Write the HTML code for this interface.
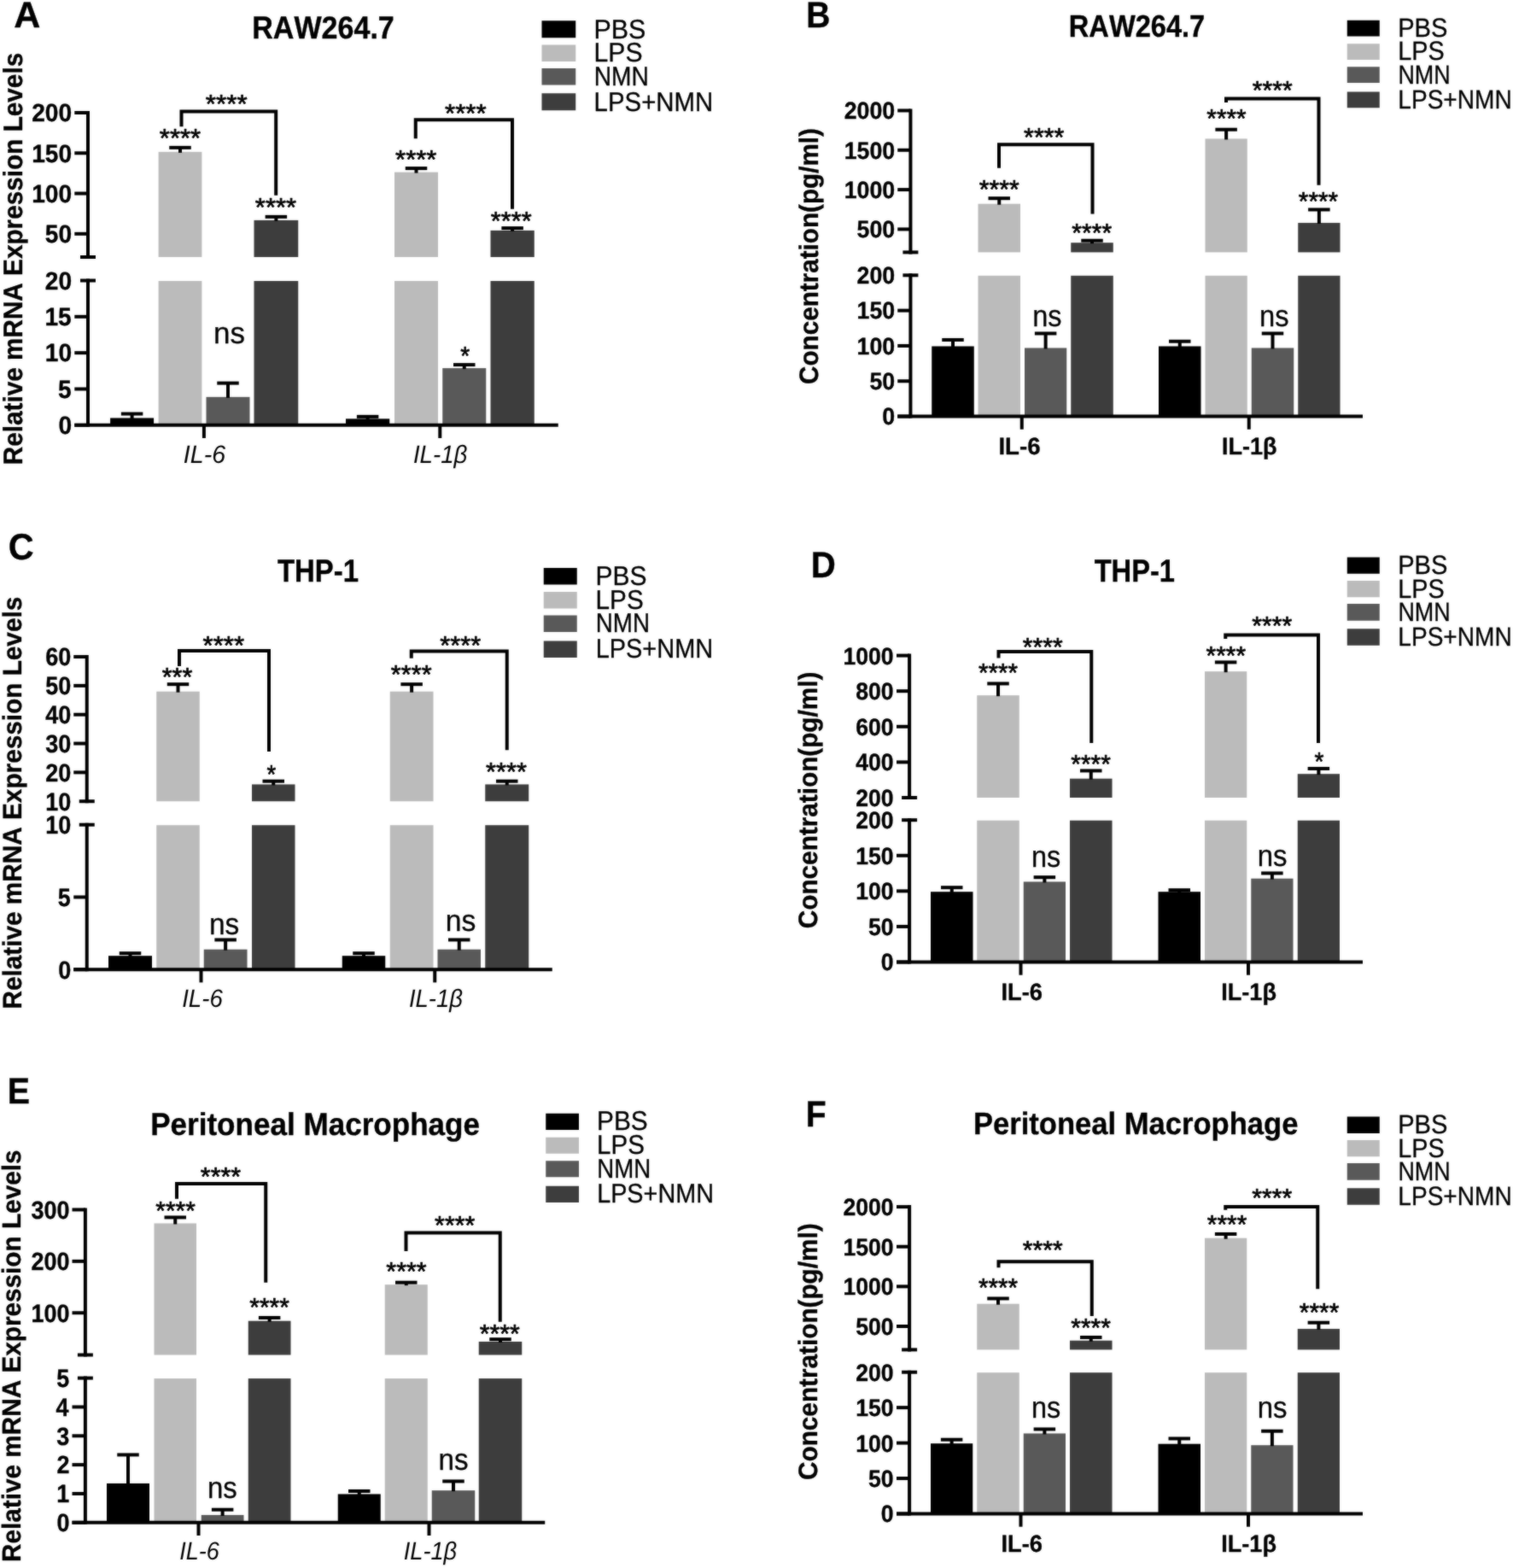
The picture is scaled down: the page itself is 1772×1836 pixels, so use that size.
<!DOCTYPE html>
<html lang="en">
<head>
<meta charset="utf-8">
<title>NMN suppresses LPS-induced IL-6 and IL-1β in macrophages</title>
<style>
html,body{margin:0;padding:0;background:#fff;}
body{width:1772px;height:1836px;overflow:hidden;}
svg{display:block;}
text{font-family:"Liberation Sans",Arial,Helvetica,sans-serif;fill:#000;font-kerning:none;text-rendering:geometricPrecision;}
.b{font-weight:700;}
.i{font-style:italic;}
</style>
</head>
<body>
<svg width="1772" height="1836" viewBox="0 0 1772 1836">
<defs><filter id="soft" x="0" y="0" width="1772" height="1836" filterUnits="userSpaceOnUse" color-interpolation-filters="sRGB"><feGaussianBlur in="SourceGraphic" stdDeviation="0.8" result="b"/><feComposite in="SourceGraphic" in2="b" operator="arithmetic" k1="0" k2="0.55" k3="0.45" k4="0"/></filter></defs>
<rect width="1772" height="1836" fill="#ffffff"/>
<g filter="url(#soft)">
<rect width="1772" height="1836" fill="#ffffff"/>
<g id="panel-A">
<rect x="129.10" y="489.45" width="51.00" height="8.35" fill="#000000"/>
<path d="M154.60 484.55L154.60 490.45" stroke="#000" stroke-width="4.0" fill="none"/>
<path d="M141.85 484.55L167.35 484.55" stroke="#000" stroke-width="4.0" fill="none"/>
<rect x="185.60" y="177.85" width="50.80" height="123.15" fill="#bbbbbb"/>
<rect x="185.60" y="329.00" width="50.80" height="168.80" fill="#bbbbbb"/>
<path d="M211.00 172.85L211.00 178.85" stroke="#000" stroke-width="4.0" fill="none"/>
<path d="M198.25 172.85L223.75 172.85" stroke="#000" stroke-width="4.0" fill="none"/>
<rect x="241.50" y="464.85" width="51.00" height="32.95" fill="#595959"/>
<path d="M267.00 448.60L267.00 465.85" stroke="#000" stroke-width="4.0" fill="none"/>
<path d="M254.25 448.60L279.75 448.60" stroke="#000" stroke-width="4.0" fill="none"/>
<rect x="297.50" y="257.85" width="51.75" height="43.15" fill="#3d3d3d"/>
<rect x="297.50" y="329.00" width="51.75" height="168.80" fill="#3d3d3d"/>
<path d="M323.38 253.85L323.38 258.85" stroke="#000" stroke-width="4.0" fill="none"/>
<path d="M310.62 253.85L336.12 253.85" stroke="#000" stroke-width="4.0" fill="none"/>
<rect x="405.00" y="490.35" width="51.25" height="7.45" fill="#000000"/>
<path d="M430.62 487.85L430.62 491.35" stroke="#000" stroke-width="4.0" fill="none"/>
<path d="M417.88 487.85L443.38 487.85" stroke="#000" stroke-width="4.0" fill="none"/>
<rect x="462.00" y="201.60" width="51.00" height="99.40" fill="#bbbbbb"/>
<rect x="462.00" y="329.00" width="51.00" height="168.80" fill="#bbbbbb"/>
<path d="M487.50 197.10L487.50 202.60" stroke="#000" stroke-width="4.0" fill="none"/>
<path d="M474.75 197.10L500.25 197.10" stroke="#000" stroke-width="4.0" fill="none"/>
<rect x="518.25" y="431.10" width="51.00" height="66.70" fill="#595959"/>
<path d="M543.75 427.10L543.75 432.10" stroke="#000" stroke-width="4.0" fill="none"/>
<path d="M531.00 427.10L556.50 427.10" stroke="#000" stroke-width="4.0" fill="none"/>
<rect x="574.50" y="269.85" width="51.25" height="31.15" fill="#3d3d3d"/>
<rect x="574.50" y="329.00" width="51.25" height="168.80" fill="#3d3d3d"/>
<path d="M600.12 267.10L600.12 270.85" stroke="#000" stroke-width="4.0" fill="none"/>
<path d="M587.38 267.10L612.88 267.10" stroke="#000" stroke-width="4.0" fill="none"/>
<path d="M103.00 130.00L103.00 303.00" stroke="#000" stroke-width="4.0" fill="none"/>
<path d="M103.00 326.50L103.00 499.80" stroke="#000" stroke-width="4.0" fill="none"/>
<path d="M94.00 301.00L112.00 301.00" stroke="#000" stroke-width="4.0" fill="none"/>
<path d="M94.00 328.50L112.00 328.50" stroke="#000" stroke-width="4.0" fill="none"/>
<path d="M87.30 497.80L653.75 497.80" stroke="#000" stroke-width="4.0" fill="none"/>
<path d="M87.30 132.00L103.00 132.00" stroke="#000" stroke-width="4.0" fill="none"/>
<text class="b" font-size="29.5" stroke="#000" stroke-width="0.35" stroke-linejoin="round" transform="translate(37.15 142.30) scale(0.9550 1)">200</text>
<path d="M87.30 179.27L103.00 179.27" stroke="#000" stroke-width="4.0" fill="none"/>
<text class="b" font-size="29.5" stroke="#000" stroke-width="0.35" stroke-linejoin="round" transform="translate(37.15 189.57) scale(0.9550 1)">150</text>
<path d="M87.30 226.53L103.00 226.53" stroke="#000" stroke-width="4.0" fill="none"/>
<text class="b" font-size="29.5" stroke="#000" stroke-width="0.35" stroke-linejoin="round" transform="translate(37.15 236.83) scale(0.9550 1)">100</text>
<path d="M87.30 273.80L103.00 273.80" stroke="#000" stroke-width="4.0" fill="none"/>
<text class="b" font-size="29.5" stroke="#000" stroke-width="0.35" stroke-linejoin="round" transform="translate(52.82 284.10) scale(0.9550 1)">50</text>
<text class="b" font-size="29.5" stroke="#000" stroke-width="0.35" stroke-linejoin="round" transform="translate(52.82 338.80) scale(0.9550 1)">20</text>
<path d="M87.30 370.82L103.00 370.82" stroke="#000" stroke-width="4.0" fill="none"/>
<text class="b" font-size="29.5" stroke="#000" stroke-width="0.35" stroke-linejoin="round" transform="translate(52.45 381.12) scale(0.9550 1)">15</text>
<path d="M87.30 413.15L103.00 413.15" stroke="#000" stroke-width="4.0" fill="none"/>
<text class="b" font-size="29.5" stroke="#000" stroke-width="0.35" stroke-linejoin="round" transform="translate(52.82 423.45) scale(0.9550 1)">10</text>
<path d="M87.30 455.48L103.00 455.48" stroke="#000" stroke-width="4.0" fill="none"/>
<text class="b" font-size="29.5" stroke="#000" stroke-width="0.35" stroke-linejoin="round" transform="translate(68.12 465.78) scale(0.9550 1)">5</text>
<path d="M87.30 497.80L103.00 497.80" stroke="#000" stroke-width="4.0" fill="none"/>
<text class="b" font-size="29.5" stroke="#000" stroke-width="0.35" stroke-linejoin="round" transform="translate(68.49 508.10) scale(0.9550 1)">0</text>
<path d="M238.90 497.80L238.90 513.00" stroke="#000" stroke-width="4.0" fill="none"/>
<text class="i" font-size="29.5" transform="translate(214.87 542.30) scale(0.9665 1)">IL-6</text>
<path d="M515.30 497.80L515.30 513.00" stroke="#000" stroke-width="4.0" fill="none"/>
<text class="i" font-size="29.5" transform="translate(483.91 542.30) scale(0.9385 1)">IL-1β</text>
<path d="M212.50 148.30L212.50 130.40L323.20 130.40L323.20 228.75" stroke="#000" stroke-width="4.0" fill="none" stroke-linejoin="miter"/>
<path d="M486.75 162.35L486.75 140.35L600.00 140.35L600.00 244.85" stroke="#000" stroke-width="4.0" fill="none" stroke-linejoin="miter"/>
<text class="r" font-size="30.5" stroke="#000" stroke-width="0.7" stroke-linejoin="round" transform="translate(240.84 131.58) scale(1.0277 1)">****</text>
<text class="r" font-size="30.5" stroke="#000" stroke-width="0.7" stroke-linejoin="round" transform="translate(186.85 171.58) scale(1.0170 1)">****</text>
<text class="r" font-size="30.5" stroke="#000" stroke-width="0.7" stroke-linejoin="round" transform="translate(298.85 253.08) scale(1.0170 1)">****</text>
<text class="r" font-size="35.5" stroke="#000" stroke-width="0.3" stroke-linejoin="round" transform="translate(250.07 401.80) scale(0.9866 1)">ns</text>
<text class="r" font-size="30.5" stroke="#000" stroke-width="0.7" stroke-linejoin="round" transform="translate(521.10 143.08) scale(1.0224 1)">****</text>
<text class="r" font-size="30.5" stroke="#000" stroke-width="0.7" stroke-linejoin="round" transform="translate(463.10 196.58) scale(1.0170 1)">****</text>
<text class="r" font-size="30.5" stroke="#000" stroke-width="0.7" stroke-linejoin="round" transform="translate(574.86 268.58) scale(1.0062 1)">****</text>
<text class="r" font-size="30.5" stroke="#000" stroke-width="0.7" stroke-linejoin="round" transform="translate(539.15 426.83) scale(0.9219 1)">*</text>
<rect x="634.50" y="24.25" width="39.75" height="20.00" fill="#000000"/>
<text class="r" font-size="31.5" stroke="#000" stroke-width="0.3" stroke-linejoin="round" transform="translate(695.50 44.60) scale(0.9664 1)">PBS</text>
<rect x="634.50" y="52.50" width="39.75" height="19.50" fill="#bbbbbb"/>
<text class="r" font-size="31.5" stroke="#000" stroke-width="0.3" stroke-linejoin="round" transform="translate(695.53 72.20) scale(0.9568 1)">LPS</text>
<rect x="634.50" y="80.00" width="39.75" height="19.50" fill="#595959"/>
<text class="r" font-size="31.5" stroke="#000" stroke-width="0.3" stroke-linejoin="round" transform="translate(695.69 100.20) scale(0.8948 1)">NMN</text>
<rect x="634.50" y="109.25" width="39.75" height="20.00" fill="#3d3d3d"/>
<text class="r" font-size="31.5" stroke="#000" stroke-width="0.3" stroke-linejoin="round" transform="translate(695.59 129.60) scale(0.9328 1)">LPS+NMN</text>
<text class="b" font-size="37" stroke="#000" stroke-width="0.35" stroke-linejoin="round" transform="translate(295.22 44.60) scale(0.9205 1)">RAW264.7</text>
<text class="b" font-size="43" stroke="#000" stroke-width="0.35" stroke-linejoin="round" transform="translate(16.13 32.40) scale(1.0000 1)">A</text>
<text class="b" font-size="31.5" stroke="#000" stroke-width="0.35" stroke-linejoin="round" transform="translate(25.60 544.29) rotate(-90) scale(0.9438 1)">Relative mRNA Expression Levels</text>
</g>
<g id="panel-B">
<rect x="1091.25" y="405.45" width="49.50" height="82.10" fill="#000000"/>
<path d="M1116.00 397.95L1116.00 406.45" stroke="#000" stroke-width="4.0" fill="none"/>
<path d="M1103.25 397.95L1128.75 397.95" stroke="#000" stroke-width="4.0" fill="none"/>
<rect x="1145.50" y="238.70" width="49.50" height="56.70" fill="#bbbbbb"/>
<rect x="1145.50" y="322.80" width="49.50" height="164.75" fill="#bbbbbb"/>
<path d="M1170.25 232.20L1170.25 239.70" stroke="#000" stroke-width="4.0" fill="none"/>
<path d="M1157.50 232.20L1183.00 232.20" stroke="#000" stroke-width="4.0" fill="none"/>
<rect x="1200.00" y="407.45" width="49.25" height="80.10" fill="#595959"/>
<path d="M1224.62 390.45L1224.62 408.45" stroke="#000" stroke-width="4.0" fill="none"/>
<path d="M1211.88 390.45L1237.38 390.45" stroke="#000" stroke-width="4.0" fill="none"/>
<rect x="1254.25" y="284.20" width="49.50" height="11.20" fill="#3d3d3d"/>
<rect x="1254.25" y="322.80" width="49.50" height="164.75" fill="#3d3d3d"/>
<path d="M1279.00 281.70L1279.00 285.20" stroke="#000" stroke-width="4.0" fill="none"/>
<path d="M1266.25 281.70L1291.75 281.70" stroke="#000" stroke-width="4.0" fill="none"/>
<rect x="1357.00" y="405.45" width="49.50" height="82.10" fill="#000000"/>
<path d="M1381.75 399.70L1381.75 406.45" stroke="#000" stroke-width="4.0" fill="none"/>
<path d="M1369.00 399.70L1394.50 399.70" stroke="#000" stroke-width="4.0" fill="none"/>
<rect x="1411.50" y="162.45" width="49.25" height="132.95" fill="#bbbbbb"/>
<rect x="1411.50" y="322.80" width="49.25" height="164.75" fill="#bbbbbb"/>
<path d="M1436.12 151.70L1436.12 163.45" stroke="#000" stroke-width="4.0" fill="none"/>
<path d="M1423.38 151.70L1448.88 151.70" stroke="#000" stroke-width="4.0" fill="none"/>
<rect x="1465.75" y="407.45" width="49.50" height="80.10" fill="#595959"/>
<path d="M1490.50 390.45L1490.50 408.45" stroke="#000" stroke-width="4.0" fill="none"/>
<path d="M1477.75 390.45L1503.25 390.45" stroke="#000" stroke-width="4.0" fill="none"/>
<rect x="1520.25" y="260.95" width="49.25" height="34.45" fill="#3d3d3d"/>
<rect x="1520.25" y="322.80" width="49.25" height="164.75" fill="#3d3d3d"/>
<path d="M1544.88 245.45L1544.88 261.95" stroke="#000" stroke-width="4.0" fill="none"/>
<path d="M1532.12 245.45L1557.62 245.45" stroke="#000" stroke-width="4.0" fill="none"/>
<path d="M1066.40 127.45L1066.40 297.40" stroke="#000" stroke-width="4.0" fill="none"/>
<path d="M1066.40 320.30L1066.40 489.55" stroke="#000" stroke-width="4.0" fill="none"/>
<path d="M1057.40 295.40L1075.40 295.40" stroke="#000" stroke-width="4.0" fill="none"/>
<path d="M1057.40 322.30L1075.40 322.30" stroke="#000" stroke-width="4.0" fill="none"/>
<path d="M1051.25 487.55L1596.00 487.55" stroke="#000" stroke-width="4.0" fill="none"/>
<path d="M1051.25 129.45L1066.40 129.45" stroke="#000" stroke-width="4.0" fill="none"/>
<text class="b" font-size="28" stroke="#000" stroke-width="0.35" stroke-linejoin="round" transform="translate(988.67 139.25) scale(0.9540 1)">2000</text>
<path d="M1051.25 175.77L1066.40 175.77" stroke="#000" stroke-width="4.0" fill="none"/>
<text class="b" font-size="28" stroke="#000" stroke-width="0.35" stroke-linejoin="round" transform="translate(988.67 185.57) scale(0.9540 1)">1500</text>
<path d="M1051.25 222.08L1066.40 222.08" stroke="#000" stroke-width="4.0" fill="none"/>
<text class="b" font-size="28" stroke="#000" stroke-width="0.35" stroke-linejoin="round" transform="translate(988.67 231.88) scale(0.9540 1)">1000</text>
<path d="M1051.25 268.40L1066.40 268.40" stroke="#000" stroke-width="4.0" fill="none"/>
<text class="b" font-size="28" stroke="#000" stroke-width="0.35" stroke-linejoin="round" transform="translate(1003.53 278.20) scale(0.9540 1)">500</text>
<text class="b" font-size="28" stroke="#000" stroke-width="0.35" stroke-linejoin="round" transform="translate(1003.53 332.10) scale(0.9540 1)">200</text>
<path d="M1051.25 363.61L1066.40 363.61" stroke="#000" stroke-width="4.0" fill="none"/>
<text class="b" font-size="28" stroke="#000" stroke-width="0.35" stroke-linejoin="round" transform="translate(1003.53 373.41) scale(0.9540 1)">150</text>
<path d="M1051.25 404.93L1066.40 404.93" stroke="#000" stroke-width="4.0" fill="none"/>
<text class="b" font-size="28" stroke="#000" stroke-width="0.35" stroke-linejoin="round" transform="translate(1003.53 414.73) scale(0.9540 1)">100</text>
<path d="M1051.25 446.24L1066.40 446.24" stroke="#000" stroke-width="4.0" fill="none"/>
<text class="b" font-size="28" stroke="#000" stroke-width="0.35" stroke-linejoin="round" transform="translate(1018.38 456.04) scale(0.9540 1)">50</text>
<path d="M1051.25 487.55L1066.40 487.55" stroke="#000" stroke-width="4.0" fill="none"/>
<text class="b" font-size="28" stroke="#000" stroke-width="0.35" stroke-linejoin="round" transform="translate(1033.24 497.35) scale(0.9540 1)">0</text>
<path d="M1196.75 487.55L1196.75 502.75" stroke="#000" stroke-width="4.0" fill="none"/>
<text class="b" font-size="28" stroke="#000" stroke-width="0.35" stroke-linejoin="round" transform="translate(1169.40 531.90) scale(0.9863 1)">IL-6</text>
<path d="M1462.75 487.55L1462.75 502.75" stroke="#000" stroke-width="4.0" fill="none"/>
<text class="b" font-size="28" stroke="#000" stroke-width="0.35" stroke-linejoin="round" transform="translate(1430.94 531.90) scale(0.9640 1)">IL-1β</text>
<path d="M1170.00 196.70L1170.00 169.20L1279.50 169.20L1279.50 250.45" stroke="#000" stroke-width="4.0" fill="none" stroke-linejoin="miter"/>
<path d="M1436.00 119.95L1436.00 115.45L1544.50 115.45L1544.50 216.70" stroke="#000" stroke-width="4.0" fill="none" stroke-linejoin="miter"/>
<text class="r" font-size="30.5" stroke="#000" stroke-width="0.7" stroke-linejoin="round" transform="translate(1199.11 170.58) scale(0.9955 1)">****</text>
<text class="r" font-size="30.5" stroke="#000" stroke-width="0.7" stroke-linejoin="round" transform="translate(1146.86 231.58) scale(0.9901 1)">****</text>
<text class="r" font-size="30.5" stroke="#000" stroke-width="0.7" stroke-linejoin="round" transform="translate(1255.37 282.58) scale(0.9847 1)">****</text>
<text class="r" font-size="35.5" stroke="#000" stroke-width="0.3" stroke-linejoin="round" transform="translate(1209.25 382.00) scale(0.9128 1)">ns</text>
<text class="r" font-size="30.5" stroke="#000" stroke-width="0.7" stroke-linejoin="round" transform="translate(1466.87 115.58) scale(0.9847 1)">****</text>
<text class="r" font-size="30.5" stroke="#000" stroke-width="0.7" stroke-linejoin="round" transform="translate(1413.37 148.58) scale(0.9740 1)">****</text>
<text class="r" font-size="30.5" stroke="#000" stroke-width="0.7" stroke-linejoin="round" transform="translate(1520.87 245.58) scale(0.9740 1)">****</text>
<text class="r" font-size="35.5" stroke="#000" stroke-width="0.3" stroke-linejoin="round" transform="translate(1474.98 382.00) scale(0.9201 1)">ns</text>
<rect x="1577.75" y="23.75" width="38.00" height="18.75" fill="#000000"/>
<text class="r" font-size="31.0" stroke="#000" stroke-width="0.3" stroke-linejoin="round" transform="translate(1637.21 42.70) scale(0.9383 1)">PBS</text>
<rect x="1577.75" y="51.25" width="38.00" height="18.75" fill="#bbbbbb"/>
<text class="r" font-size="31.0" stroke="#000" stroke-width="0.3" stroke-linejoin="round" transform="translate(1637.24 70.20) scale(0.9290 1)">LPS</text>
<rect x="1577.75" y="78.25" width="38.00" height="18.75" fill="#595959"/>
<text class="r" font-size="31.0" stroke="#000" stroke-width="0.3" stroke-linejoin="round" transform="translate(1637.39 97.60) scale(0.8688 1)">NMN</text>
<rect x="1577.75" y="107.50" width="38.00" height="18.75" fill="#3d3d3d"/>
<text class="r" font-size="31.0" stroke="#000" stroke-width="0.3" stroke-linejoin="round" transform="translate(1637.30 126.80) scale(0.9056 1)">LPS+NMN</text>
<text class="b" font-size="36.3" stroke="#000" stroke-width="0.35" stroke-linejoin="round" transform="translate(1251.82 43.35) scale(0.8980 1)">RAW264.7</text>
<text class="b" font-size="43" stroke="#000" stroke-width="0.35" stroke-linejoin="round" transform="translate(944.14 32.40) scale(0.9076 1)">B</text>
<text class="b" font-size="31.2" stroke="#000" stroke-width="0.35" stroke-linejoin="round" transform="translate(958.20 449.92) rotate(-90) scale(0.9507 1)">Concentration(pg/ml)</text>
</g>
<g id="panel-C">
<rect x="127.00" y="1119.20" width="51.00" height="16.00" fill="#000000"/>
<path d="M152.50 1116.20L152.50 1120.20" stroke="#000" stroke-width="4.0" fill="none"/>
<path d="M139.75 1116.20L165.25 1116.20" stroke="#000" stroke-width="4.0" fill="none"/>
<rect x="183.25" y="809.70" width="50.50" height="128.55" fill="#bbbbbb"/>
<rect x="183.25" y="966.20" width="50.50" height="169.00" fill="#bbbbbb"/>
<path d="M208.50 801.20L208.50 810.70" stroke="#000" stroke-width="4.0" fill="none"/>
<path d="M195.75 801.20L221.25 801.20" stroke="#000" stroke-width="4.0" fill="none"/>
<rect x="238.75" y="1111.70" width="50.75" height="23.50" fill="#595959"/>
<path d="M264.12 1100.45L264.12 1112.70" stroke="#000" stroke-width="4.0" fill="none"/>
<path d="M251.38 1100.45L276.88 1100.45" stroke="#000" stroke-width="4.0" fill="none"/>
<rect x="295.00" y="918.45" width="50.50" height="19.80" fill="#3d3d3d"/>
<rect x="295.00" y="966.20" width="50.50" height="169.00" fill="#3d3d3d"/>
<path d="M320.25 914.70L320.25 919.45" stroke="#000" stroke-width="4.0" fill="none"/>
<path d="M307.50 914.70L333.00 914.70" stroke="#000" stroke-width="4.0" fill="none"/>
<rect x="400.75" y="1119.20" width="50.50" height="16.00" fill="#000000"/>
<path d="M426.00 1116.20L426.00 1120.20" stroke="#000" stroke-width="4.0" fill="none"/>
<path d="M413.25 1116.20L438.75 1116.20" stroke="#000" stroke-width="4.0" fill="none"/>
<rect x="456.75" y="809.70" width="50.75" height="128.55" fill="#bbbbbb"/>
<rect x="456.75" y="966.20" width="50.75" height="169.00" fill="#bbbbbb"/>
<path d="M482.12 801.20L482.12 810.70" stroke="#000" stroke-width="4.0" fill="none"/>
<path d="M469.38 801.20L494.88 801.20" stroke="#000" stroke-width="4.0" fill="none"/>
<rect x="512.50" y="1111.70" width="50.50" height="23.50" fill="#595959"/>
<path d="M537.75 1100.45L537.75 1112.70" stroke="#000" stroke-width="4.0" fill="none"/>
<path d="M525.00 1100.45L550.50 1100.45" stroke="#000" stroke-width="4.0" fill="none"/>
<rect x="568.25" y="918.45" width="51.00" height="19.80" fill="#3d3d3d"/>
<rect x="568.25" y="966.20" width="51.00" height="169.00" fill="#3d3d3d"/>
<path d="M593.75 914.70L593.75 919.45" stroke="#000" stroke-width="4.0" fill="none"/>
<path d="M581.00 914.70L606.50 914.70" stroke="#000" stroke-width="4.0" fill="none"/>
<path d="M101.75 767.05L101.75 940.25" stroke="#000" stroke-width="4.0" fill="none"/>
<path d="M101.75 963.70L101.75 1137.20" stroke="#000" stroke-width="4.0" fill="none"/>
<path d="M92.75 938.25L110.75 938.25" stroke="#000" stroke-width="4.0" fill="none"/>
<path d="M92.75 965.70L110.75 965.70" stroke="#000" stroke-width="4.0" fill="none"/>
<path d="M86.25 1135.20L646.75 1135.20" stroke="#000" stroke-width="4.0" fill="none"/>
<path d="M86.25 769.05L101.75 769.05" stroke="#000" stroke-width="4.0" fill="none"/>
<text class="b" font-size="29.5" stroke="#000" stroke-width="0.35" stroke-linejoin="round" transform="translate(53.18 779.35) scale(0.9150 1)">60</text>
<path d="M86.25 802.89L101.75 802.89" stroke="#000" stroke-width="4.0" fill="none"/>
<text class="b" font-size="29.5" stroke="#000" stroke-width="0.35" stroke-linejoin="round" transform="translate(53.18 813.19) scale(0.9150 1)">50</text>
<path d="M86.25 836.73L101.75 836.73" stroke="#000" stroke-width="4.0" fill="none"/>
<text class="b" font-size="29.5" stroke="#000" stroke-width="0.35" stroke-linejoin="round" transform="translate(53.18 847.03) scale(0.9150 1)">40</text>
<path d="M86.25 870.57L101.75 870.57" stroke="#000" stroke-width="4.0" fill="none"/>
<text class="b" font-size="29.5" stroke="#000" stroke-width="0.35" stroke-linejoin="round" transform="translate(53.18 880.87) scale(0.9150 1)">30</text>
<path d="M86.25 904.41L101.75 904.41" stroke="#000" stroke-width="4.0" fill="none"/>
<text class="b" font-size="29.5" stroke="#000" stroke-width="0.35" stroke-linejoin="round" transform="translate(53.18 914.71) scale(0.9150 1)">20</text>
<text class="b" font-size="29.5" stroke="#000" stroke-width="0.35" stroke-linejoin="round" transform="translate(53.18 948.55) scale(0.9150 1)">10</text>
<text class="b" font-size="29.5" stroke="#000" stroke-width="0.35" stroke-linejoin="round" transform="translate(53.18 976.00) scale(0.9150 1)">10</text>
<path d="M86.25 1050.45L101.75 1050.45" stroke="#000" stroke-width="4.0" fill="none"/>
<text class="b" font-size="29.5" stroke="#000" stroke-width="0.35" stroke-linejoin="round" transform="translate(67.84 1060.75) scale(0.9150 1)">5</text>
<path d="M86.25 1135.20L101.75 1135.20" stroke="#000" stroke-width="4.0" fill="none"/>
<text class="b" font-size="29.5" stroke="#000" stroke-width="0.35" stroke-linejoin="round" transform="translate(68.20 1145.50) scale(0.9150 1)">0</text>
<path d="M235.50 1135.20L235.50 1150.40" stroke="#000" stroke-width="4.0" fill="none"/>
<text class="i" font-size="29.5" transform="translate(213.16 1179.15) scale(0.9363 1)">IL-6</text>
<path d="M509.25 1135.20L509.25 1150.40" stroke="#000" stroke-width="4.0" fill="none"/>
<text class="i" font-size="29.5" transform="translate(478.91 1179.15) scale(0.9309 1)">IL-1β</text>
<path d="M210.00 780.10L210.00 762.10L315.00 762.10L315.00 880.00" stroke="#000" stroke-width="4.0" fill="none" stroke-linejoin="miter"/>
<path d="M481.75 770.80L481.75 762.40L593.75 762.40L593.75 878.25" stroke="#000" stroke-width="4.0" fill="none" stroke-linejoin="miter"/>
<text class="r" font-size="30.5" stroke="#000" stroke-width="0.7" stroke-linejoin="round" transform="translate(237.55 766.48) scale(1.0234 1)">****</text>
<text class="r" font-size="30.5" stroke="#000" stroke-width="0.7" stroke-linejoin="round" transform="translate(189.66 803.38) scale(1.0046 1)">***</text>
<text class="r" font-size="30.5" stroke="#000" stroke-width="0.7" stroke-linejoin="round" transform="translate(312.41 916.83) scale(0.8990 1)">*</text>
<text class="r" font-size="35.5" stroke="#000" stroke-width="0.3" stroke-linejoin="round" transform="translate(244.93 1093.80) scale(0.9423 1)">ns</text>
<text class="r" font-size="30.5" stroke="#000" stroke-width="0.7" stroke-linejoin="round" transform="translate(515.36 766.08) scale(1.0062 1)">****</text>
<text class="r" font-size="30.5" stroke="#000" stroke-width="0.7" stroke-linejoin="round" transform="translate(457.86 799.83) scale(1.0062 1)">****</text>
<text class="r" font-size="30.5" stroke="#000" stroke-width="0.7" stroke-linejoin="round" transform="translate(569.11 913.83) scale(1.0062 1)">****</text>
<text class="r" font-size="35.5" stroke="#000" stroke-width="0.3" stroke-linejoin="round" transform="translate(521.66 1089.50) scale(0.9497 1)">ns</text>
<rect x="636.75" y="665.00" width="39.00" height="19.50" fill="#000000"/>
<text class="r" font-size="31.5" stroke="#000" stroke-width="0.3" stroke-linejoin="round" transform="translate(697.54 684.70) scale(0.9521 1)">PBS</text>
<rect x="636.75" y="693.00" width="39.00" height="19.50" fill="#bbbbbb"/>
<text class="r" font-size="31.5" stroke="#000" stroke-width="0.3" stroke-linejoin="round" transform="translate(697.56 712.70) scale(0.9426 1)">LPS</text>
<rect x="636.75" y="720.50" width="39.00" height="19.50" fill="#595959"/>
<text class="r" font-size="31.5" stroke="#000" stroke-width="0.3" stroke-linejoin="round" transform="translate(697.72 740.40) scale(0.8816 1)">NMN</text>
<rect x="636.75" y="750.50" width="39.00" height="19.50" fill="#3d3d3d"/>
<text class="r" font-size="31.5" stroke="#000" stroke-width="0.3" stroke-linejoin="round" transform="translate(697.63 770.20) scale(0.9189 1)">LPS+NMN</text>
<text class="b" font-size="37" stroke="#000" stroke-width="0.35" stroke-linejoin="round" transform="translate(324.88 680.85) scale(0.8895 1)">THP-1</text>
<text class="b" font-size="43" stroke="#000" stroke-width="0.35" stroke-linejoin="round" transform="translate(9.75 654.90) scale(0.9639 1)">C</text>
<text class="b" font-size="31.0" stroke="#000" stroke-width="0.35" stroke-linejoin="round" transform="translate(24.60 1181.49) rotate(-90) scale(0.9595 1)">Relative mRNA Expression Levels</text>
</g>
<g id="panel-D">
<rect x="1090.00" y="1044.20" width="49.50" height="82.30" fill="#000000"/>
<path d="M1114.75 1039.20L1114.75 1045.20" stroke="#000" stroke-width="4.0" fill="none"/>
<path d="M1102.00 1039.20L1127.50 1039.20" stroke="#000" stroke-width="4.0" fill="none"/>
<rect x="1144.25" y="814.20" width="49.50" height="119.80" fill="#bbbbbb"/>
<rect x="1144.25" y="960.70" width="49.50" height="165.80" fill="#bbbbbb"/>
<path d="M1169.00 800.45L1169.00 815.20" stroke="#000" stroke-width="4.0" fill="none"/>
<path d="M1156.25 800.45L1181.75 800.45" stroke="#000" stroke-width="4.0" fill="none"/>
<rect x="1198.75" y="1032.45" width="49.25" height="94.05" fill="#595959"/>
<path d="M1223.38 1027.20L1223.38 1033.45" stroke="#000" stroke-width="4.0" fill="none"/>
<path d="M1210.62 1027.20L1236.12 1027.20" stroke="#000" stroke-width="4.0" fill="none"/>
<rect x="1253.00" y="911.70" width="49.50" height="22.30" fill="#3d3d3d"/>
<rect x="1253.00" y="960.70" width="49.50" height="165.80" fill="#3d3d3d"/>
<path d="M1277.75 902.45L1277.75 912.70" stroke="#000" stroke-width="4.0" fill="none"/>
<path d="M1265.00 902.45L1290.50 902.45" stroke="#000" stroke-width="4.0" fill="none"/>
<rect x="1356.50" y="1044.20" width="49.50" height="82.30" fill="#000000"/>
<path d="M1381.25 1042.20L1381.25 1045.20" stroke="#000" stroke-width="4.0" fill="none"/>
<path d="M1368.50 1042.20L1394.00 1042.20" stroke="#000" stroke-width="4.0" fill="none"/>
<rect x="1411.00" y="786.20" width="49.25" height="147.80" fill="#bbbbbb"/>
<rect x="1411.00" y="960.70" width="49.25" height="165.80" fill="#bbbbbb"/>
<path d="M1435.62 775.45L1435.62 787.20" stroke="#000" stroke-width="4.0" fill="none"/>
<path d="M1422.88 775.45L1448.38 775.45" stroke="#000" stroke-width="4.0" fill="none"/>
<rect x="1465.25" y="1028.70" width="49.25" height="97.80" fill="#595959"/>
<path d="M1489.88 1022.45L1489.88 1029.70" stroke="#000" stroke-width="4.0" fill="none"/>
<path d="M1477.12 1022.45L1502.62 1022.45" stroke="#000" stroke-width="4.0" fill="none"/>
<rect x="1519.75" y="906.20" width="49.25" height="27.80" fill="#3d3d3d"/>
<rect x="1519.75" y="960.70" width="49.25" height="165.80" fill="#3d3d3d"/>
<path d="M1544.38 899.95L1544.38 907.20" stroke="#000" stroke-width="4.0" fill="none"/>
<path d="M1531.62 899.95L1557.12 899.95" stroke="#000" stroke-width="4.0" fill="none"/>
<path d="M1065.10 765.60L1065.10 936.00" stroke="#000" stroke-width="4.0" fill="none"/>
<path d="M1065.10 958.20L1065.10 1128.50" stroke="#000" stroke-width="4.0" fill="none"/>
<path d="M1056.10 934.00L1074.10 934.00" stroke="#000" stroke-width="4.0" fill="none"/>
<path d="M1056.10 960.20L1074.10 960.20" stroke="#000" stroke-width="4.0" fill="none"/>
<path d="M1050.00 1126.50L1596.00 1126.50" stroke="#000" stroke-width="4.0" fill="none"/>
<path d="M1050.00 767.60L1065.10 767.60" stroke="#000" stroke-width="4.0" fill="none"/>
<text class="b" font-size="28" stroke="#000" stroke-width="0.35" stroke-linejoin="round" transform="translate(987.42 777.50) scale(0.9500 1)">1000</text>
<path d="M1050.00 809.20L1065.10 809.20" stroke="#000" stroke-width="4.0" fill="none"/>
<text class="b" font-size="28" stroke="#000" stroke-width="0.35" stroke-linejoin="round" transform="translate(1002.21 819.10) scale(0.9500 1)">800</text>
<path d="M1050.00 850.80L1065.10 850.80" stroke="#000" stroke-width="4.0" fill="none"/>
<text class="b" font-size="28" stroke="#000" stroke-width="0.35" stroke-linejoin="round" transform="translate(1002.21 860.70) scale(0.9500 1)">600</text>
<path d="M1050.00 892.40L1065.10 892.40" stroke="#000" stroke-width="4.0" fill="none"/>
<text class="b" font-size="28" stroke="#000" stroke-width="0.35" stroke-linejoin="round" transform="translate(1002.21 902.30) scale(0.9500 1)">400</text>
<text class="b" font-size="28" stroke="#000" stroke-width="0.35" stroke-linejoin="round" transform="translate(1002.21 943.90) scale(0.9500 1)">200</text>
<text class="b" font-size="28" stroke="#000" stroke-width="0.35" stroke-linejoin="round" transform="translate(1002.21 970.10) scale(0.9500 1)">200</text>
<path d="M1050.00 1001.78L1065.10 1001.78" stroke="#000" stroke-width="4.0" fill="none"/>
<text class="b" font-size="28" stroke="#000" stroke-width="0.35" stroke-linejoin="round" transform="translate(1002.21 1011.68) scale(0.9500 1)">150</text>
<path d="M1050.00 1043.35L1065.10 1043.35" stroke="#000" stroke-width="4.0" fill="none"/>
<text class="b" font-size="28" stroke="#000" stroke-width="0.35" stroke-linejoin="round" transform="translate(1002.21 1053.25) scale(0.9500 1)">100</text>
<path d="M1050.00 1084.92L1065.10 1084.92" stroke="#000" stroke-width="4.0" fill="none"/>
<text class="b" font-size="28" stroke="#000" stroke-width="0.35" stroke-linejoin="round" transform="translate(1017.00 1094.83) scale(0.9500 1)">50</text>
<path d="M1050.00 1126.50L1065.10 1126.50" stroke="#000" stroke-width="4.0" fill="none"/>
<text class="b" font-size="28" stroke="#000" stroke-width="0.35" stroke-linejoin="round" transform="translate(1031.80 1136.40) scale(0.9500 1)">0</text>
<path d="M1195.50 1126.50L1195.50 1141.70" stroke="#000" stroke-width="4.0" fill="none"/>
<text class="b" font-size="28" stroke="#000" stroke-width="0.35" stroke-linejoin="round" transform="translate(1172.42 1171.15) scale(0.9756 1)">IL-6</text>
<path d="M1462.00 1126.50L1462.00 1141.70" stroke="#000" stroke-width="4.0" fill="none"/>
<text class="b" font-size="28" stroke="#000" stroke-width="0.35" stroke-linejoin="round" transform="translate(1430.19 1171.15) scale(0.9680 1)">IL-1β</text>
<path d="M1169.50 770.45L1169.50 762.95L1278.25 762.95L1278.25 869.95" stroke="#000" stroke-width="4.0" fill="none" stroke-linejoin="miter"/>
<path d="M1435.25 747.95L1435.25 743.45L1544.00 743.45L1544.00 869.95" stroke="#000" stroke-width="4.0" fill="none" stroke-linejoin="miter"/>
<text class="r" font-size="30.5" stroke="#000" stroke-width="0.7" stroke-linejoin="round" transform="translate(1197.87 767.58) scale(0.9847 1)">****</text>
<text class="r" font-size="30.5" stroke="#000" stroke-width="0.7" stroke-linejoin="round" transform="translate(1146.12 798.08) scale(0.9686 1)">****</text>
<text class="r" font-size="30.5" stroke="#000" stroke-width="0.7" stroke-linejoin="round" transform="translate(1254.37 904.83) scale(0.9794 1)">****</text>
<text class="r" font-size="35.5" stroke="#000" stroke-width="0.3" stroke-linejoin="round" transform="translate(1208.00 1014.50) scale(0.9128 1)">ns</text>
<text class="r" font-size="30.5" stroke="#000" stroke-width="0.7" stroke-linejoin="round" transform="translate(1466.36 743.08) scale(0.9901 1)">****</text>
<text class="r" font-size="30.5" stroke="#000" stroke-width="0.7" stroke-linejoin="round" transform="translate(1412.62 778.08) scale(0.9794 1)">****</text>
<text class="r" font-size="30.5" stroke="#000" stroke-width="0.7" stroke-linejoin="round" transform="translate(1539.40 901.83) scale(0.9219 1)">*</text>
<text class="r" font-size="35.5" stroke="#000" stroke-width="0.3" stroke-linejoin="round" transform="translate(1472.71 1013.80) scale(0.9275 1)">ns</text>
<rect x="1577.75" y="652.50" width="38.00" height="19.25" fill="#000000"/>
<text class="r" font-size="31.0" stroke="#000" stroke-width="0.3" stroke-linejoin="round" transform="translate(1637.21 672.00) scale(0.9383 1)">PBS</text>
<rect x="1577.75" y="680.00" width="38.00" height="19.25" fill="#bbbbbb"/>
<text class="r" font-size="31.0" stroke="#000" stroke-width="0.3" stroke-linejoin="round" transform="translate(1637.24 699.50) scale(0.9290 1)">LPS</text>
<rect x="1577.75" y="707.00" width="38.00" height="19.75" fill="#595959"/>
<text class="r" font-size="31.0" stroke="#000" stroke-width="0.3" stroke-linejoin="round" transform="translate(1637.39 727.20) scale(0.8688 1)">NMN</text>
<rect x="1577.75" y="736.25" width="38.00" height="19.50" fill="#3d3d3d"/>
<text class="r" font-size="31.0" stroke="#000" stroke-width="0.3" stroke-linejoin="round" transform="translate(1637.30 756.30) scale(0.9056 1)">LPS+NMN</text>
<text class="b" font-size="37" stroke="#000" stroke-width="0.35" stroke-linejoin="round" transform="translate(1281.63 680.85) scale(0.8824 1)">THP-1</text>
<text class="b" font-size="43" stroke="#000" stroke-width="0.35" stroke-linejoin="round" transform="translate(949.66 675.65) scale(0.9347 1)">D</text>
<text class="b" font-size="31.2" stroke="#000" stroke-width="0.35" stroke-linejoin="round" transform="translate(957.00 1087.22) rotate(-90) scale(0.9533 1)">Concentration(pg/ml)</text>
</g>
<g id="panel-E">
<rect x="125.00" y="1736.95" width="50.00" height="45.85" fill="#000000"/>
<path d="M150.00 1703.45L150.00 1737.95" stroke="#000" stroke-width="4.0" fill="none"/>
<path d="M137.25 1703.45L162.75 1703.45" stroke="#000" stroke-width="4.0" fill="none"/>
<rect x="180.50" y="1432.45" width="49.50" height="154.05" fill="#bbbbbb"/>
<rect x="180.50" y="1614.10" width="49.50" height="168.70" fill="#bbbbbb"/>
<path d="M205.25 1425.45L205.25 1433.45" stroke="#000" stroke-width="4.0" fill="none"/>
<path d="M192.50 1425.45L218.00 1425.45" stroke="#000" stroke-width="4.0" fill="none"/>
<rect x="235.75" y="1773.95" width="49.75" height="8.85" fill="#595959"/>
<path d="M260.62 1767.70L260.62 1774.95" stroke="#000" stroke-width="4.0" fill="none"/>
<path d="M247.88 1767.70L273.38 1767.70" stroke="#000" stroke-width="4.0" fill="none"/>
<rect x="290.75" y="1546.70" width="49.75" height="39.80" fill="#3d3d3d"/>
<rect x="290.75" y="1614.10" width="49.75" height="168.70" fill="#3d3d3d"/>
<path d="M315.62 1542.95L315.62 1547.70" stroke="#000" stroke-width="4.0" fill="none"/>
<path d="M302.88 1542.95L328.38 1542.95" stroke="#000" stroke-width="4.0" fill="none"/>
<rect x="395.75" y="1749.45" width="50.00" height="33.35" fill="#000000"/>
<path d="M420.75 1745.95L420.75 1750.45" stroke="#000" stroke-width="4.0" fill="none"/>
<path d="M408.00 1745.95L433.50 1745.95" stroke="#000" stroke-width="4.0" fill="none"/>
<rect x="450.75" y="1504.20" width="50.00" height="82.30" fill="#bbbbbb"/>
<rect x="450.75" y="1614.10" width="50.00" height="168.70" fill="#bbbbbb"/>
<path d="M475.75 1501.70L475.75 1505.20" stroke="#000" stroke-width="4.0" fill="none"/>
<path d="M463.00 1501.70L488.50 1501.70" stroke="#000" stroke-width="4.0" fill="none"/>
<rect x="505.75" y="1745.20" width="50.50" height="37.60" fill="#595959"/>
<path d="M531.00 1734.45L531.00 1746.20" stroke="#000" stroke-width="4.0" fill="none"/>
<path d="M518.25 1734.45L543.75 1734.45" stroke="#000" stroke-width="4.0" fill="none"/>
<rect x="560.75" y="1570.95" width="50.50" height="15.55" fill="#3d3d3d"/>
<rect x="560.75" y="1614.10" width="50.50" height="168.70" fill="#3d3d3d"/>
<path d="M586.00 1568.20L586.00 1571.95" stroke="#000" stroke-width="4.0" fill="none"/>
<path d="M573.25 1568.20L598.75 1568.20" stroke="#000" stroke-width="4.0" fill="none"/>
<path d="M99.90 1414.45L99.90 1588.50" stroke="#000" stroke-width="4.0" fill="none"/>
<path d="M99.90 1611.60L99.90 1784.80" stroke="#000" stroke-width="4.0" fill="none"/>
<path d="M90.90 1586.50L108.90 1586.50" stroke="#000" stroke-width="4.0" fill="none"/>
<path d="M90.90 1613.60L108.90 1613.60" stroke="#000" stroke-width="4.0" fill="none"/>
<path d="M84.50 1782.80L638.25 1782.80" stroke="#000" stroke-width="4.0" fill="none"/>
<path d="M84.50 1416.45L99.90 1416.45" stroke="#000" stroke-width="4.0" fill="none"/>
<text class="b" font-size="29.5" stroke="#000" stroke-width="0.35" stroke-linejoin="round" transform="translate(36.47 1426.75) scale(0.9150 1)">300</text>
<path d="M84.50 1476.85L99.90 1476.85" stroke="#000" stroke-width="4.0" fill="none"/>
<text class="b" font-size="29.5" stroke="#000" stroke-width="0.35" stroke-linejoin="round" transform="translate(36.47 1487.15) scale(0.9150 1)">200</text>
<path d="M84.50 1537.25L99.90 1537.25" stroke="#000" stroke-width="4.0" fill="none"/>
<text class="b" font-size="29.5" stroke="#000" stroke-width="0.35" stroke-linejoin="round" transform="translate(36.47 1547.55) scale(0.9150 1)">100</text>
<text class="b" font-size="29.5" stroke="#000" stroke-width="0.35" stroke-linejoin="round" transform="translate(66.14 1623.90) scale(0.9150 1)">5</text>
<path d="M84.50 1647.44L99.90 1647.44" stroke="#000" stroke-width="4.0" fill="none"/>
<text class="b" font-size="29.5" stroke="#000" stroke-width="0.35" stroke-linejoin="round" transform="translate(65.53 1657.74) scale(0.9150 1)">4</text>
<path d="M84.50 1681.28L99.90 1681.28" stroke="#000" stroke-width="4.0" fill="none"/>
<text class="b" font-size="29.5" stroke="#000" stroke-width="0.35" stroke-linejoin="round" transform="translate(66.36 1691.58) scale(0.9150 1)">3</text>
<path d="M84.50 1715.12L99.90 1715.12" stroke="#000" stroke-width="4.0" fill="none"/>
<text class="b" font-size="29.5" stroke="#000" stroke-width="0.35" stroke-linejoin="round" transform="translate(66.47 1725.42) scale(0.9150 1)">2</text>
<path d="M84.50 1748.96L99.90 1748.96" stroke="#000" stroke-width="4.0" fill="none"/>
<text class="b" font-size="29.5" stroke="#000" stroke-width="0.35" stroke-linejoin="round" transform="translate(66.14 1759.26) scale(0.9150 1)">1</text>
<path d="M84.50 1782.80L99.90 1782.80" stroke="#000" stroke-width="4.0" fill="none"/>
<text class="b" font-size="29.5" stroke="#000" stroke-width="0.35" stroke-linejoin="round" transform="translate(66.50 1793.10) scale(0.9150 1)">0</text>
<path d="M232.50 1782.80L232.50 1798.00" stroke="#000" stroke-width="4.0" fill="none"/>
<text class="i" font-size="29.5" transform="translate(210.18 1826.40) scale(0.9161 1)">IL-6</text>
<path d="M502.50 1782.80L502.50 1798.00" stroke="#000" stroke-width="4.0" fill="none"/>
<text class="i" font-size="29.5" transform="translate(472.67 1826.40) scale(0.9233 1)">IL-1β</text>
<path d="M207.00 1403.70L207.00 1385.95L311.25 1385.95L311.25 1501.70" stroke="#000" stroke-width="4.0" fill="none" stroke-linejoin="miter"/>
<path d="M475.50 1464.95L475.50 1443.45L585.75 1443.45L585.75 1547.70" stroke="#000" stroke-width="4.0" fill="none" stroke-linejoin="miter"/>
<text class="r" font-size="30.5" stroke="#000" stroke-width="0.7" stroke-linejoin="round" transform="translate(234.86 1388.08) scale(0.9955 1)">****</text>
<text class="r" font-size="30.5" stroke="#000" stroke-width="0.7" stroke-linejoin="round" transform="translate(182.37 1427.58) scale(0.9794 1)">****</text>
<text class="r" font-size="30.5" stroke="#000" stroke-width="0.7" stroke-linejoin="round" transform="translate(292.37 1541.33) scale(0.9794 1)">****</text>
<text class="r" font-size="35.5" stroke="#000" stroke-width="0.3" stroke-linejoin="round" transform="translate(242.96 1754.00) scale(0.9275 1)">ns</text>
<text class="r" font-size="30.5" stroke="#000" stroke-width="0.7" stroke-linejoin="round" transform="translate(509.11 1444.83) scale(0.9955 1)">****</text>
<text class="r" font-size="30.5" stroke="#000" stroke-width="0.7" stroke-linejoin="round" transform="translate(452.36 1499.33) scale(0.9955 1)">****</text>
<text class="r" font-size="30.5" stroke="#000" stroke-width="0.7" stroke-linejoin="round" transform="translate(561.86 1571.58) scale(0.9901 1)">****</text>
<text class="r" font-size="35.5" stroke="#000" stroke-width="0.3" stroke-linejoin="round" transform="translate(513.45 1720.50) scale(0.9349 1)">ns</text>
<rect x="639.25" y="1303.75" width="38.75" height="19.25" fill="#000000"/>
<text class="r" font-size="31.5" stroke="#000" stroke-width="0.3" stroke-linejoin="round" transform="translate(699.05 1323.20) scale(0.9471 1)">PBS</text>
<rect x="639.25" y="1331.75" width="38.75" height="19.00" fill="#bbbbbb"/>
<text class="r" font-size="31.5" stroke="#000" stroke-width="0.3" stroke-linejoin="round" transform="translate(699.08 1351.40) scale(0.9376 1)">LPS</text>
<rect x="639.25" y="1359.25" width="38.75" height="19.00" fill="#595959"/>
<text class="r" font-size="31.5" stroke="#000" stroke-width="0.3" stroke-linejoin="round" transform="translate(699.23 1378.90) scale(0.8769 1)">NMN</text>
<rect x="639.25" y="1388.75" width="38.75" height="19.25" fill="#3d3d3d"/>
<text class="r" font-size="31.5" stroke="#000" stroke-width="0.3" stroke-linejoin="round" transform="translate(699.14 1408.40) scale(0.9141 1)">LPS+NMN</text>
<text class="b" font-size="37" stroke="#000" stroke-width="0.35" stroke-linejoin="round" transform="translate(176.15 1329.10) scale(0.9478 1)">Peritoneal Macrophage</text>
<text class="b" font-size="43" stroke="#000" stroke-width="0.35" stroke-linejoin="round" transform="translate(8.81 1291.90) scale(0.9161 1)">E</text>
<text class="b" font-size="30.7" stroke="#000" stroke-width="0.35" stroke-linejoin="round" transform="translate(24.35 1828.99) rotate(-90) scale(0.9688 1)">Relative mRNA Expression Levels</text>
</g>
<g id="panel-F">
<rect x="1090.00" y="1690.20" width="49.25" height="82.30" fill="#000000"/>
<path d="M1114.62 1685.70L1114.62 1691.20" stroke="#000" stroke-width="4.0" fill="none"/>
<path d="M1101.88 1685.70L1127.38 1685.70" stroke="#000" stroke-width="4.0" fill="none"/>
<rect x="1144.25" y="1526.70" width="49.50" height="53.70" fill="#bbbbbb"/>
<rect x="1144.25" y="1607.20" width="49.50" height="165.30" fill="#bbbbbb"/>
<path d="M1169.00 1520.45L1169.00 1527.70" stroke="#000" stroke-width="4.0" fill="none"/>
<path d="M1156.25 1520.45L1181.75 1520.45" stroke="#000" stroke-width="4.0" fill="none"/>
<rect x="1198.75" y="1678.45" width="49.25" height="94.05" fill="#595959"/>
<path d="M1223.38 1673.45L1223.38 1679.45" stroke="#000" stroke-width="4.0" fill="none"/>
<path d="M1210.62 1673.45L1236.12 1673.45" stroke="#000" stroke-width="4.0" fill="none"/>
<rect x="1253.00" y="1569.70" width="49.50" height="10.70" fill="#3d3d3d"/>
<rect x="1253.00" y="1607.20" width="49.50" height="165.30" fill="#3d3d3d"/>
<path d="M1277.75 1565.95L1277.75 1570.70" stroke="#000" stroke-width="4.0" fill="none"/>
<path d="M1265.00 1565.95L1290.50 1565.95" stroke="#000" stroke-width="4.0" fill="none"/>
<rect x="1356.50" y="1690.70" width="49.50" height="81.80" fill="#000000"/>
<path d="M1381.25 1684.45L1381.25 1691.70" stroke="#000" stroke-width="4.0" fill="none"/>
<path d="M1368.50 1684.45L1394.00 1684.45" stroke="#000" stroke-width="4.0" fill="none"/>
<rect x="1411.00" y="1449.70" width="49.25" height="130.70" fill="#bbbbbb"/>
<rect x="1411.00" y="1607.20" width="49.25" height="165.30" fill="#bbbbbb"/>
<path d="M1435.62 1444.95L1435.62 1450.70" stroke="#000" stroke-width="4.0" fill="none"/>
<path d="M1422.88 1444.95L1448.38 1444.95" stroke="#000" stroke-width="4.0" fill="none"/>
<rect x="1465.25" y="1692.20" width="49.25" height="80.30" fill="#595959"/>
<path d="M1489.88 1675.70L1489.88 1693.20" stroke="#000" stroke-width="4.0" fill="none"/>
<path d="M1477.12 1675.70L1502.62 1675.70" stroke="#000" stroke-width="4.0" fill="none"/>
<rect x="1519.75" y="1555.95" width="49.25" height="24.45" fill="#3d3d3d"/>
<rect x="1519.75" y="1607.20" width="49.25" height="165.30" fill="#3d3d3d"/>
<path d="M1544.38 1548.70L1544.38 1556.95" stroke="#000" stroke-width="4.0" fill="none"/>
<path d="M1531.62 1548.70L1557.12 1548.70" stroke="#000" stroke-width="4.0" fill="none"/>
<path d="M1065.10 1411.10L1065.10 1582.40" stroke="#000" stroke-width="4.0" fill="none"/>
<path d="M1065.10 1604.70L1065.10 1774.50" stroke="#000" stroke-width="4.0" fill="none"/>
<path d="M1056.10 1580.40L1074.10 1580.40" stroke="#000" stroke-width="4.0" fill="none"/>
<path d="M1056.10 1606.70L1074.10 1606.70" stroke="#000" stroke-width="4.0" fill="none"/>
<path d="M1050.00 1772.50L1596.00 1772.50" stroke="#000" stroke-width="4.0" fill="none"/>
<path d="M1050.00 1413.10L1065.10 1413.10" stroke="#000" stroke-width="4.0" fill="none"/>
<text class="b" font-size="28" stroke="#000" stroke-width="0.35" stroke-linejoin="round" transform="translate(987.42 1423.00) scale(0.9500 1)">2000</text>
<path d="M1050.00 1459.73L1065.10 1459.73" stroke="#000" stroke-width="4.0" fill="none"/>
<text class="b" font-size="28" stroke="#000" stroke-width="0.35" stroke-linejoin="round" transform="translate(987.42 1469.63) scale(0.9500 1)">1500</text>
<path d="M1050.00 1506.37L1065.10 1506.37" stroke="#000" stroke-width="4.0" fill="none"/>
<text class="b" font-size="28" stroke="#000" stroke-width="0.35" stroke-linejoin="round" transform="translate(987.42 1516.27) scale(0.9500 1)">1000</text>
<path d="M1050.00 1553.00L1065.10 1553.00" stroke="#000" stroke-width="4.0" fill="none"/>
<text class="b" font-size="28" stroke="#000" stroke-width="0.35" stroke-linejoin="round" transform="translate(1002.21 1562.90) scale(0.9500 1)">500</text>
<text class="b" font-size="28" stroke="#000" stroke-width="0.35" stroke-linejoin="round" transform="translate(1002.21 1616.60) scale(0.9500 1)">200</text>
<path d="M1050.00 1648.15L1065.10 1648.15" stroke="#000" stroke-width="4.0" fill="none"/>
<text class="b" font-size="28" stroke="#000" stroke-width="0.35" stroke-linejoin="round" transform="translate(1002.21 1658.05) scale(0.9500 1)">150</text>
<path d="M1050.00 1689.60L1065.10 1689.60" stroke="#000" stroke-width="4.0" fill="none"/>
<text class="b" font-size="28" stroke="#000" stroke-width="0.35" stroke-linejoin="round" transform="translate(1002.21 1699.50) scale(0.9500 1)">100</text>
<path d="M1050.00 1731.05L1065.10 1731.05" stroke="#000" stroke-width="4.0" fill="none"/>
<text class="b" font-size="28" stroke="#000" stroke-width="0.35" stroke-linejoin="round" transform="translate(1017.00 1740.95) scale(0.9500 1)">50</text>
<path d="M1050.00 1772.50L1065.10 1772.50" stroke="#000" stroke-width="4.0" fill="none"/>
<text class="b" font-size="28" stroke="#000" stroke-width="0.35" stroke-linejoin="round" transform="translate(1031.80 1782.40) scale(0.9500 1)">0</text>
<path d="M1195.50 1772.50L1195.50 1787.70" stroke="#000" stroke-width="4.0" fill="none"/>
<text class="b" font-size="28" stroke="#000" stroke-width="0.35" stroke-linejoin="round" transform="translate(1172.42 1816.90) scale(0.9756 1)">IL-6</text>
<path d="M1462.00 1772.50L1462.00 1787.70" stroke="#000" stroke-width="4.0" fill="none"/>
<text class="b" font-size="28" stroke="#000" stroke-width="0.35" stroke-linejoin="round" transform="translate(1430.19 1816.90) scale(0.9680 1)">IL-1β</text>
<path d="M1169.50 1484.20L1169.50 1477.20L1278.75 1477.20L1278.75 1540.95" stroke="#000" stroke-width="4.0" fill="none" stroke-linejoin="miter"/>
<path d="M1435.25 1416.70L1435.25 1412.95L1543.25 1412.95L1543.25 1509.20" stroke="#000" stroke-width="4.0" fill="none" stroke-linejoin="miter"/>
<text class="r" font-size="30.5" stroke="#000" stroke-width="0.7" stroke-linejoin="round" transform="translate(1197.87 1474.33) scale(0.9847 1)">****</text>
<text class="r" font-size="30.5" stroke="#000" stroke-width="0.7" stroke-linejoin="round" transform="translate(1146.12 1517.58) scale(0.9686 1)">****</text>
<text class="r" font-size="30.5" stroke="#000" stroke-width="0.7" stroke-linejoin="round" transform="translate(1254.37 1565.33) scale(0.9794 1)">****</text>
<text class="r" font-size="35.5" stroke="#000" stroke-width="0.3" stroke-linejoin="round" transform="translate(1208.00 1659.80) scale(0.9128 1)">ns</text>
<text class="r" font-size="30.5" stroke="#000" stroke-width="0.7" stroke-linejoin="round" transform="translate(1466.36 1412.58) scale(0.9901 1)">****</text>
<text class="r" font-size="30.5" stroke="#000" stroke-width="0.7" stroke-linejoin="round" transform="translate(1413.87 1443.58) scale(0.9794 1)">****</text>
<text class="r" font-size="30.5" stroke="#000" stroke-width="0.7" stroke-linejoin="round" transform="translate(1521.87 1547.33) scale(0.9794 1)">****</text>
<text class="r" font-size="35.5" stroke="#000" stroke-width="0.3" stroke-linejoin="round" transform="translate(1472.71 1659.80) scale(0.9275 1)">ns</text>
<rect x="1577.75" y="1307.50" width="38.00" height="19.50" fill="#000000"/>
<text class="r" font-size="31.0" stroke="#000" stroke-width="0.3" stroke-linejoin="round" transform="translate(1637.21 1327.00) scale(0.9383 1)">PBS</text>
<rect x="1577.75" y="1335.00" width="38.00" height="19.25" fill="#bbbbbb"/>
<text class="r" font-size="31.0" stroke="#000" stroke-width="0.3" stroke-linejoin="round" transform="translate(1637.24 1354.50) scale(0.9290 1)">LPS</text>
<rect x="1577.75" y="1362.00" width="38.00" height="19.75" fill="#595959"/>
<text class="r" font-size="31.0" stroke="#000" stroke-width="0.3" stroke-linejoin="round" transform="translate(1637.39 1382.20) scale(0.8688 1)">NMN</text>
<rect x="1577.75" y="1391.25" width="38.00" height="19.50" fill="#3d3d3d"/>
<text class="r" font-size="31.0" stroke="#000" stroke-width="0.3" stroke-linejoin="round" transform="translate(1637.30 1411.30) scale(0.9056 1)">LPS+NMN</text>
<text class="b" font-size="36.3" stroke="#000" stroke-width="0.35" stroke-linejoin="round" transform="translate(1139.94 1327.60) scale(0.9528 1)">Peritoneal Macrophage</text>
<text class="b" font-size="43" stroke="#000" stroke-width="0.35" stroke-linejoin="round" transform="translate(943.83 1319.15) scale(0.9122 1)">F</text>
<text class="b" font-size="31.2" stroke="#000" stroke-width="0.35" stroke-linejoin="round" transform="translate(957.00 1732.97) rotate(-90) scale(0.9533 1)">Concentration(pg/ml)</text>
</g>
</g>
</svg>
</body>
</html>
